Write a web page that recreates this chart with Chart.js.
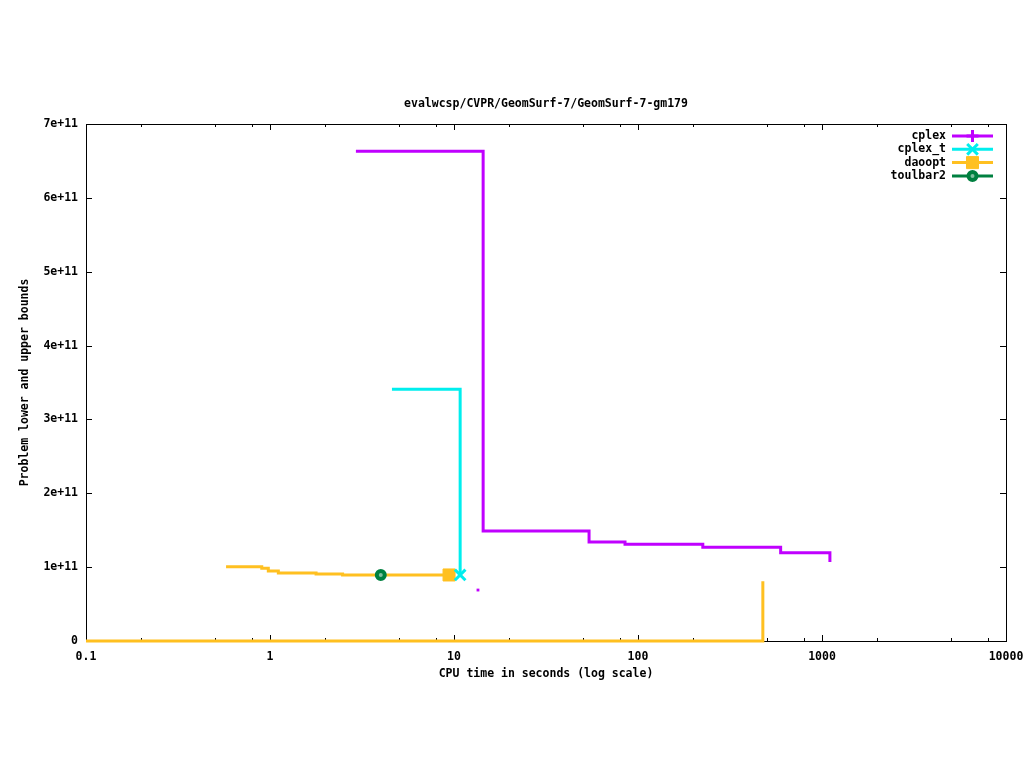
<!DOCTYPE html>
<html lang="en">
<head>
<meta charset="UTF-8">
<title>evalwcsp/CVPR/GeomSurf-7/GeomSurf-7-gm179</title>
<script src="https://cdn.jsdelivr.net/npm/chart.js"></script>
<style>
  html, body { margin: 0; padding: 0; background: #fff; }
  #chart { display: block; }
</style>
</head>
<body>
<canvas id="chart" width="1024" height="768"></canvas>
<script>
// values (time in seconds, bound value)
const cplexTime  = [2.93, 14.4, 54.2, 85, 225, 596, 1104];
const cplexBound = [6.63e11, 1.49e11, 1.34e11, 1.31e11, 1.27e11, 1.195e11, 1.07e11];
const cplexLowTime  = [13.5];
const cplexLowBound = [0.69e11];
const cplexTTime  = [4.6, 10.8];
const cplexTBound = [3.41e11, 0.894e11];
const daooptTime  = [0.577, 0.902, 0.979, 1.11, 1.78, 2.48, 9.4];
const daooptBound = [1.006e11, 0.984e11, 0.948e11, 0.92e11, 0.907e11, 0.894e11, 0.894e11];
const daooptLowTime  = [0.1, 477];
const daooptLowBound = [0, 0.81e11];
const toulbarTime  = [4.0];
const toulbarBound = [0.894e11];

const xMajor = [0.1, 1, 10, 100, 1000, 10000];
const xMinorFactors = [2, 5, 8];
const yTicks = [0, 1e11, 2e11, 3e11, 4e11, 5e11, 6e11, 7e11];

const titleText = 'evalwcsp/CVPR/GeomSurf-7/GeomSurf-7-gm179';
const FONT_FAMILY = '"DejaVu Sans Mono", "Liberation Mono", monospace';

function pts(xs, ys) {
    return xs.map((x, i) => ({ x: x, y: ys[i] }));
}

// only the last point of a series carries its marker
function lastOnly(r) {
    return ctx => ctx.dataIndex === ctx.dataset.data.length - 1 ? r : 0;
}

// box, inward ticks, title and the gnuplot style key
const gnuplotFrame = {
    id: 'gnuplotFrame',
    beforeDatasetsDraw(chart) {
        const { ctx, chartArea: a, scales: { x, y } } = chart;
        ctx.save();
        ctx.strokeStyle = '#000';
        ctx.lineWidth = 1;
        ctx.strokeRect(a.left + 0.5, a.top + 0.5, a.right - a.left, a.bottom - a.top);
        ctx.beginPath();
        xMajor.forEach((v, i) => {
            const px = Math.round(x.getPixelForValue(v)) + 0.5;
            ctx.moveTo(px, a.bottom); ctx.lineTo(px, a.bottom - 6);
            ctx.moveTo(px, a.top); ctx.lineTo(px, a.top + 6);
            if (i < xMajor.length - 1) {
                xMinorFactors.forEach(f => {
                    const mx = Math.round(x.getPixelForValue(v * f)) + 0.5;
                    ctx.moveTo(mx, a.bottom); ctx.lineTo(mx, a.bottom - 3);
                    ctx.moveTo(mx, a.top); ctx.lineTo(mx, a.top + 3);
                });
            }
        });
        yTicks.forEach(v => {
            const py = Math.round(y.getPixelForValue(v)) + 0.5;
            ctx.moveTo(a.left, py); ctx.lineTo(a.left + 6, py);
            ctx.moveTo(a.right, py); ctx.lineTo(a.right - 6, py);
        });
        ctx.stroke();

        ctx.fillStyle = '#000';
        ctx.font = 'bold 11.5px ' + FONT_FAMILY;
        ctx.textAlign = 'center';
        ctx.textBaseline = 'middle';
        ctx.fillText(titleText, (a.left + a.right) / 2, a.top - 20);
        ctx.restore();
    },
    afterDraw(chart) {
        const { ctx, chartArea: a } = chart;
        ctx.save();
        ctx.font = 'bold 11.5px ' + FONT_FAMILY;
        ctx.textAlign = 'right';
        ctx.textBaseline = 'middle';
        let row = 0;
        chart.data.datasets.forEach(ds => {
            if (ds.noKey) return;
            const yy = a.top + 12 + row * 13.3;
            const x0 = a.right - 54, x1 = a.right - 13;
            ctx.fillStyle = '#000';
            ctx.fillText(ds.label, a.right - 60, yy);
            ctx.strokeStyle = ds.borderColor;
            ctx.lineWidth = 3;
            ctx.beginPath();
            ctx.moveTo(x0, yy); ctx.lineTo(x1, yy);
            ctx.stroke();
            ctx.fillStyle = ds.pointBackgroundColor || ds.borderColor;
            ctx.strokeStyle = ds.borderColor;
            ctx.lineWidth = ds.pointBorderWidth;
            Chart.helpers.drawPoint(ctx, {
                pointStyle: ds.pointStyle,
                radius: ds.keyRadius,
                rotation: 0,
                borderWidth: ds.pointBorderWidth
            }, (x0 + x1) / 2, yy);
            row++;
        });
        ctx.restore();
    }
};

const PURPLE = '#c000ff', CYAN = '#00eeee', GOLD = '#ffc020', GREEN = '#008040';

new Chart(document.getElementById('chart').getContext('2d'), {
    type: 'line',
    data: {
        datasets: [
            {
                label: 'cplex', data: pts(cplexTime, cplexBound),
                borderColor: PURPLE, backgroundColor: PURPLE, borderWidth: 3,
                stepped: true, pointStyle: 'cross', pointRadius: 0,
                pointBorderWidth: 3, keyRadius: 6, order: 4
            },
            {
                label: 'cplex lb', data: pts(cplexLowTime, cplexLowBound), noKey: true,
                borderColor: PURPLE, backgroundColor: PURPLE, showLine: false,
                pointStyle: 'rect', pointRadius: 2, pointBorderWidth: 0, order: 4
            },
            {
                label: 'cplex_t', data: pts(cplexTTime, cplexTBound),
                borderColor: CYAN, backgroundColor: CYAN, borderWidth: 3,
                stepped: true, pointStyle: 'crossRot', pointRadius: lastOnly(7.5),
                pointBorderWidth: 3, keyRadius: 7.5, order: 1
            },
            {
                label: 'daoopt', data: pts(daooptTime, daooptBound),
                borderColor: GOLD, backgroundColor: GOLD, pointBackgroundColor: GOLD, borderWidth: 3,
                stepped: true, pointStyle: 'rect', pointRadius: lastOnly(8.5),
                pointBorderWidth: 1, keyRadius: 8.5, order: 2
            },
            {
                label: 'daoopt lb', data: pts(daooptLowTime, daooptLowBound), noKey: true,
                borderColor: GOLD, backgroundColor: GOLD, borderWidth: 3,
                stepped: true, pointRadius: 0, order: 2
            },
            {
                label: 'toulbar2', data: pts(toulbarTime, toulbarBound),
                borderColor: GREEN, backgroundColor: '#7fc09f', pointBackgroundColor: '#7fc09f',
                borderWidth: 3, showLine: false,
                pointStyle: 'circle', pointRadius: 4, pointBorderWidth: 4, keyRadius: 4, order: 0
            }
        ]
    },
    options: {
        responsive: false,
        animation: false,
        clip: 6,
        layout: { autoPadding: false, padding: { top: 124, right: 18, left: 0, bottom: 0 } },
        plugins: {
            legend: { display: false },
            tooltip: { enabled: false }
        },
        elements: { line: { tension: 0, borderCapStyle: 'butt' } },
        scales: {
            x: {
                type: 'logarithmic',
                min: 0.1, max: 10000,
                grid: { display: false, drawTicks: false },
                border: { display: false },
                afterBuildTicks: s => { s.ticks = xMajor.map(v => ({ value: v })); },
                afterFit: s => { s.height = 127; s.paddingLeft = 0; s.paddingRight = 0; },
                ticks: {
                    autoSkip: false, maxRotation: 0, padding: 9, color: '#000',
                    font: { family: FONT_FAMILY, size: 11.5, weight: 'bold' },
                    callback: v => String(v)
                },
                title: {
                    display: true, text: 'CPU time in seconds (log scale)', color: '#000',
                    font: { family: FONT_FAMILY, size: 11.5, weight: 'bold' },
                    padding: { top: 0, bottom: 87 }
                }
            },
            y: {
                type: 'linear',
                min: 0, max: 7e11,
                grid: { display: false, drawTicks: false },
                border: { display: false },
                afterBuildTicks: s => { s.ticks = yTicks.map(v => ({ value: v })); },
                afterFit: s => { s.width = 86; s.paddingTop = 0; s.paddingBottom = 0; },
                ticks: {
                    padding: 8, color: '#000',
                    font: { family: FONT_FAMILY, size: 11.5, weight: 'bold' },
                    callback: v => v === 0 ? '0' : (v / 1e11) + 'e+11'
                },
                title: {
                    display: true, text: 'Problem lower and upper bounds', color: '#000',
                    font: { family: FONT_FAMILY, size: 11.5, weight: 'bold' },
                    padding: { top: 18, bottom: 0 }
                }
            }
        }
    },
    plugins: [gnuplotFrame]
});
</script>
</body>
</html>
